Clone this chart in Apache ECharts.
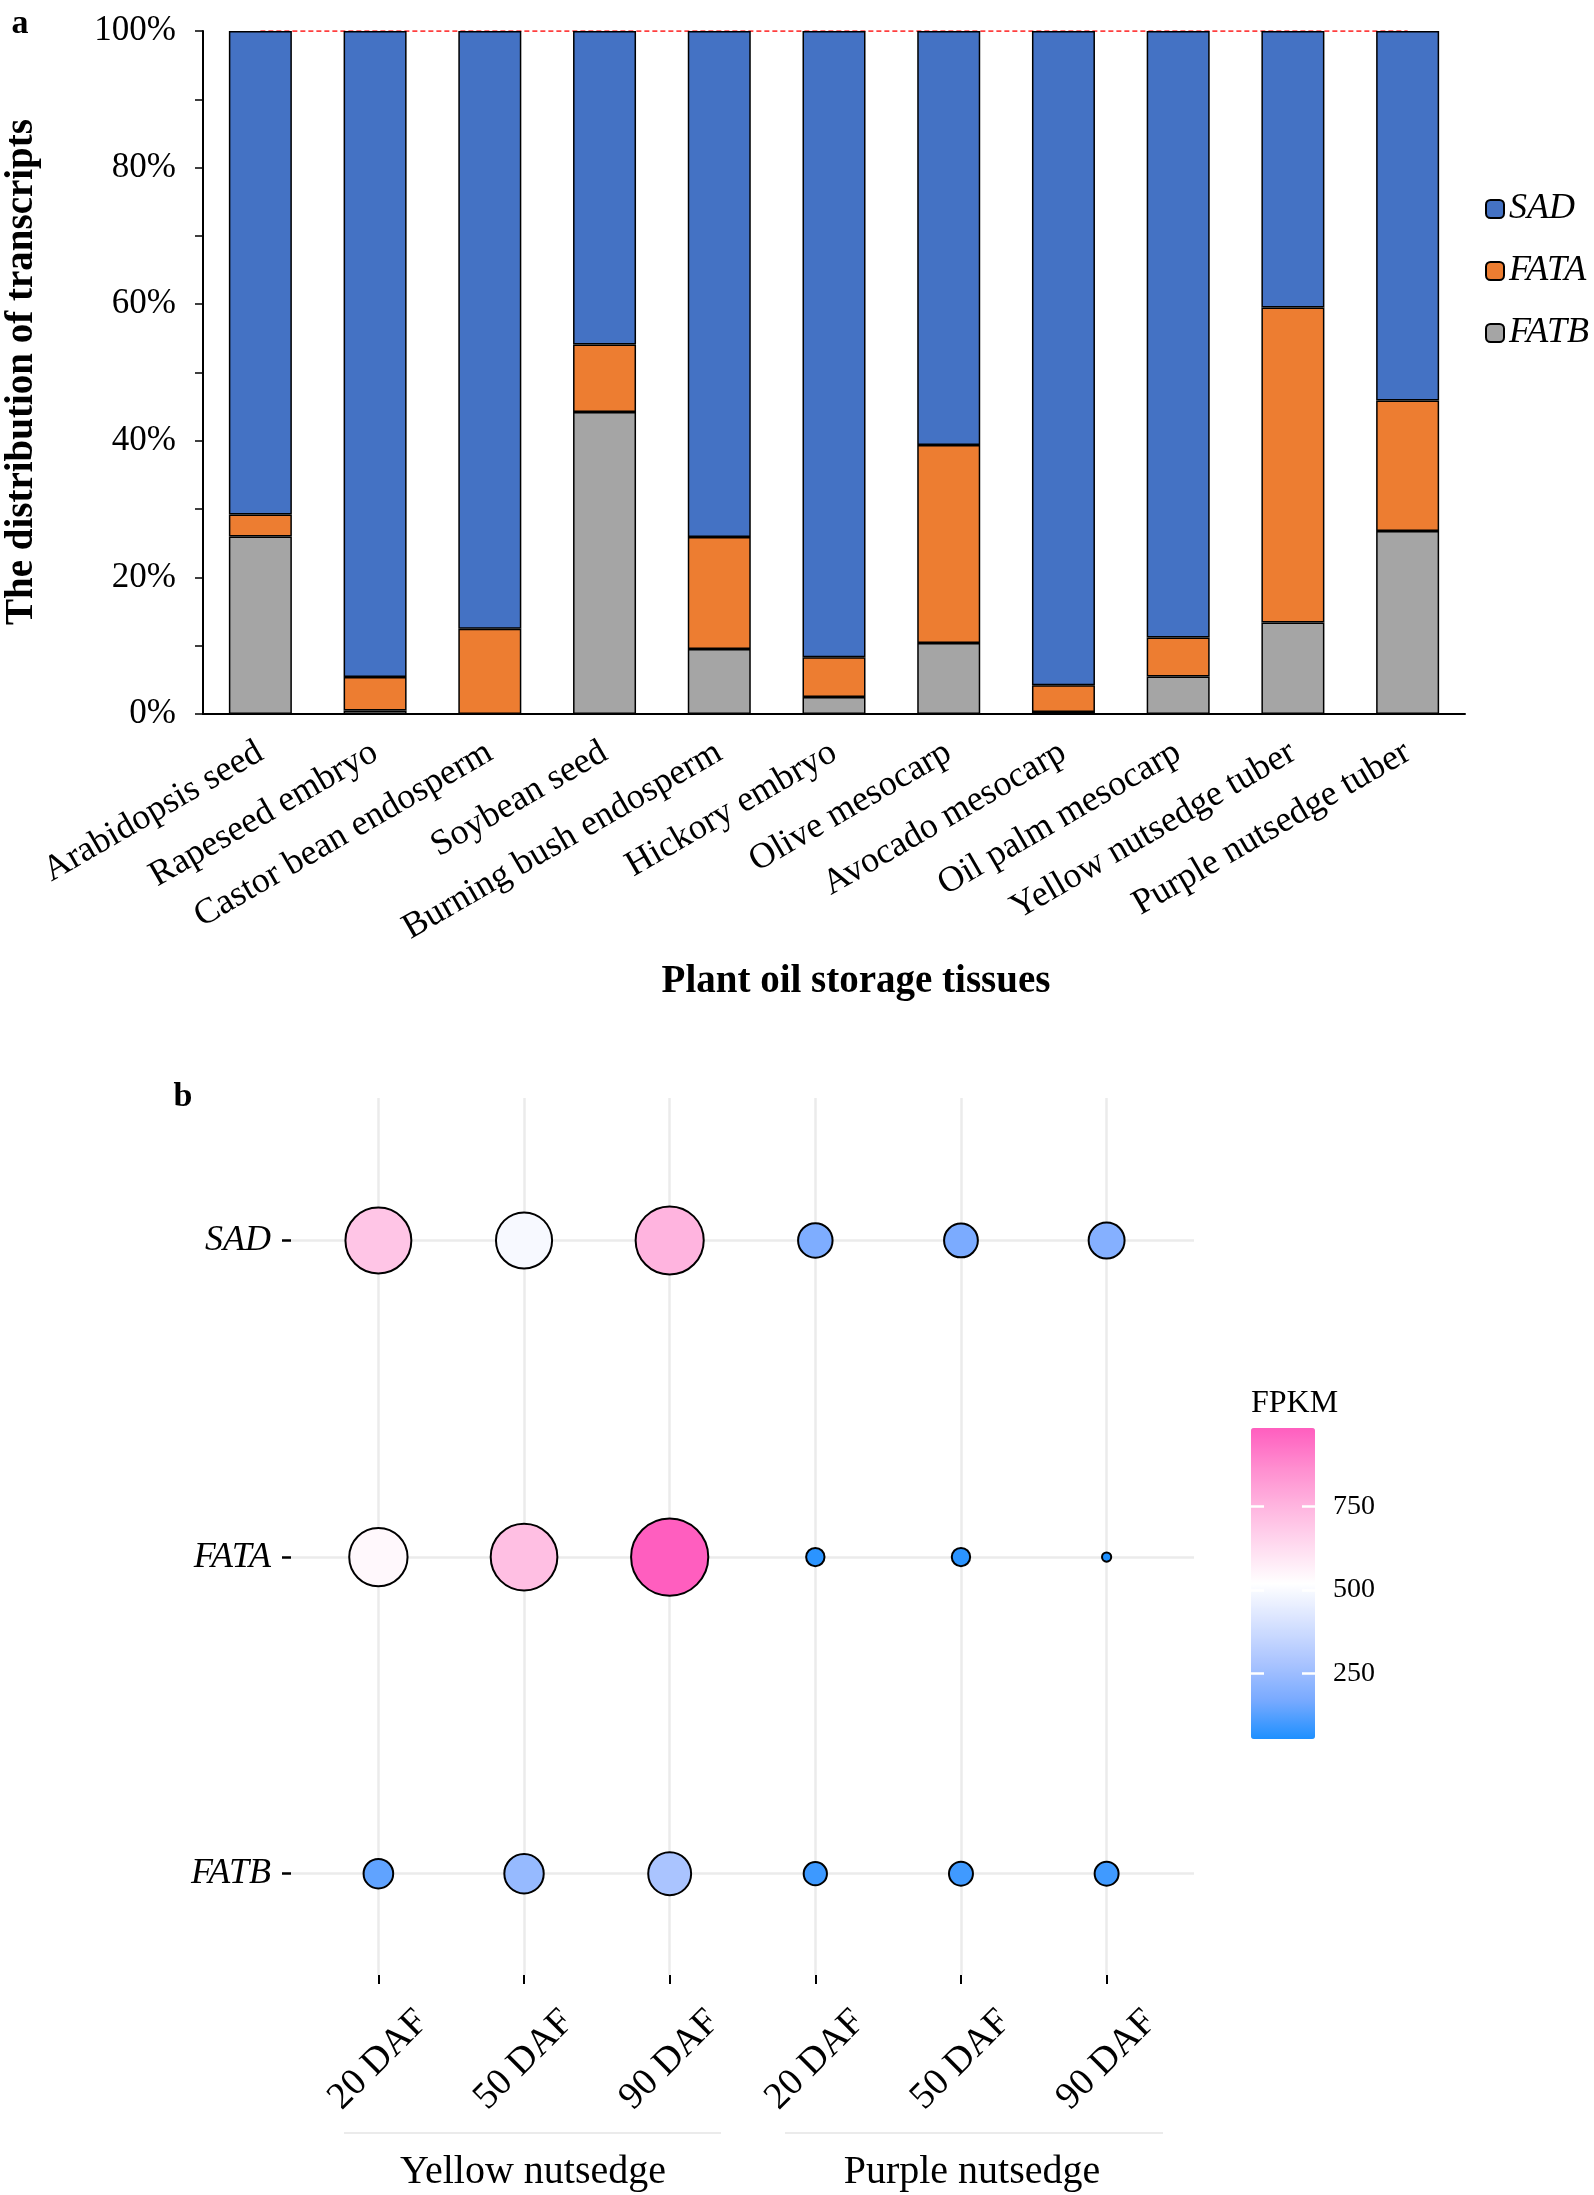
<!DOCTYPE html>
<html><head><meta charset="utf-8">
<script src="https://cdn.jsdelivr.net/npm/echarts@6/dist/echarts.min.js"></script>
<style>html,body{margin:0;padding:0;background:#fff}#c{width:1594px;height:2195px}</style>
</head><body><div id="c"></div>
<script>
// ---- Panel a data ----
const tissues = ['Arabidopsis seed','Rapeseed embryo','Castor bean endosperm','Soybean seed','Burning bush endosperm','Hickory embryo','Olive mesocarp','Avocado mesocarp','Oil palm mesocarp','Yellow nutsedge tuber','Purple nutsedge tuber'];
const fatbShare = [26.0, 0.5, 0, 44.2, 9.5, 2.5, 10.4, 0.3, 5.5, 13.4, 26.8];
const fataShare = [3.2, 4.9, 12.5, 9.9, 16.4, 5.8, 29.0, 3.9, 5.7, 46.1, 19.1];
const sadShare  = [70.8, 94.6, 87.5, 45.9, 74.1, 91.7, 60.6, 95.8, 88.8, 40.5, 54.1];
const yTicksA = [0, 20, 40, 60, 80, 100];

// ---- Panel b data ----
const stages = ['20 DAF','50 DAF','90 DAF','20 DAF','50 DAF','90 DAF'];
const species = ['Yellow nutsedge','Purple nutsedge'];
const genes = ['SAD','FATA','FATB'];
const fpkmSAD  = [702, 497, 753, 182, 175, 197];
const fpkmFATA = [540, 720, 986, 70, 70, 53];
const fpkmFATB = [137, 237, 282, 93, 97, 97];
const colorbarTicks = [250, 500, 750];

const SERIF = '"Liberation Serif","Times New Roman",serif';
const fpkmByGene = [fpkmSAD, fpkmFATA, fpkmFATB];
const allF = fpkmByGene.flat();
const fMin = Math.min(...allF), fMax = Math.max(...allF);
const bubbleData = [];
genes.forEach((g, gi) => {
  fpkmByGene[gi].forEach((v, si) => bubbleData.push([si + 1, genes.length - gi, v]));
});
const sizeOf = v => 9.2 + 68 * Math.sqrt((v - fMin) / (fMax - fMin));
const stageIdx = stages.map((_, i) => i + 1);
const geneIdx = genes.map((_, i) => i + 1);
const topLine = tissues.map((_, i) => fatbShare[i] + fataShare[i] + sadShare[i]);

const chart = echarts.init(document.getElementById('c'), null, {renderer: 'canvas'});
const barCommon = {type: 'bar', stack: 'total', barWidth: 63, xAxisIndex: 0, yAxisIndex: 0, z: 2};
const centered = {align: 'center', verticalAlign: 'middle', textAlign: 'center', textVerticalAlign: 'middle', fill: '#000'};
const cbTick = {show: true, customValues: colorbarTicks, length: 13, lineStyle: {color: '#fff', width: 2.5}};
chart.setOption({
  animation: false,
  backgroundColor: '#fff',
  textStyle: {fontFamily: SERIF, color: '#000'},
  grid: [
    {left: 203, right: 129, top: 31, bottom: 1481},
    {left: 291, right: 400, top: 1098, bottom: 220},
    {left: 1251, top: 1428, width: 64, height: 311},
    {left: 1315, top: 1428, width: 10, height: 311}
  ],
  legend: {
    data: ['SAD', 'FATA', 'FATB'],
    orient: 'vertical', left: 1480, top: 186, itemWidth: 18, itemHeight: 18, itemGap: 26,
    textStyle: {fontFamily: SERIF, fontStyle: 'italic', fontSize: 36, color: '#000'}
  },
  xAxis: [
    {gridIndex: 0, type: 'category', data: tissues,
     axisLine: {lineStyle: {color: '#000', width: 2}},
     axisTick: {alignWithLabel: true, length: 8, lineStyle: {color: '#000', width: 1.5}},
     axisLabel: {rotate: 30, interval: 0, margin: 36, fontSize: 36, color: '#000', fontFamily: SERIF}},
    {gridIndex: 1, type: 'value', min: 0.4, max: stages.length + 0.6,
     axisLine: {show: false},
     axisTick: {show: true, customValues: stageIdx, length: 9, lineStyle: {color: '#000', width: 2}},
     axisLabel: {customValues: stageIdx, formatter: v => stages[Math.round(v) - 1] || '', rotate: 45, align: 'center', verticalAlign: 'middle', margin: 85, fontSize: 38, color: '#000', fontFamily: SERIF},
     splitLine: {show: true, lineStyle: {color: '#EBEBEB', width: 2.5}}},
    {gridIndex: 2, type: 'value', min: 0, max: 1, show: false},
    {gridIndex: 3, type: 'value', min: 0, max: 1, show: false}
  ],
  yAxis: [
    {gridIndex: 0, type: 'value', min: 0, max: 100, interval: 10,
     axisLine: {show: true, lineStyle: {color: '#000', width: 2}},
     axisTick: {show: true, length: 8, lineStyle: {color: '#000', width: 1.5}},
     axisLabel: {formatter: v => yTicksA.includes(v) ? v + '%' : '', margin: 27, fontSize: 35, color: '#000', fontFamily: SERIF},
     splitLine: {show: false}},
    {gridIndex: 1, type: 'value', min: 0.68, max: genes.length + 0.45,
     axisLine: {show: false},
     axisTick: {show: true, customValues: geneIdx, length: 9, lineStyle: {color: '#000', width: 2.5}},
     axisLabel: {customValues: geneIdx, formatter: v => genes[genes.length - Math.round(v)] || '', margin: 20, fontSize: 36, fontStyle: 'italic', color: '#000', fontFamily: SERIF},
     splitLine: {show: true, lineStyle: {color: '#EBEBEB', width: 2.5}}},
    {gridIndex: 2, type: 'value', min: fMin, max: fMax, position: 'right', z: 10,
     axisLine: {show: false}, axisTick: {show: false},
     axisLabel: {customValues: colorbarTicks, margin: 18, fontSize: 28, color: '#000', fontFamily: SERIF},
     splitLine: {show: false}},
    {gridIndex: 2, type: 'value', min: fMin, max: fMax, position: 'left', z: 10,
     axisLine: {show: false},
     axisTick: Object.assign({inside: true}, cbTick),
     axisLabel: {show: false}, splitLine: {show: false}},
    {gridIndex: 3, type: 'value', min: fMin, max: fMax, position: 'left', z: 10,
     axisLine: {show: false},
     axisTick: Object.assign({inside: false}, cbTick),
     axisLabel: {show: false}, splitLine: {show: false}}
  ],
  visualMap: {
    type: 'continuous', seriesIndex: 4, dimension: 2, min: fMin, max: fMax, z: 1,
    calculable: false, hoverLink: false, orient: 'vertical', left: 1251, top: 1428,
    itemWidth: 64, itemHeight: 311, padding: 0, text: null, showLabel: false,
    inRange: {color: ['#1E90FF','#79AAFF','#ACC5FF','#D7E2FF','#FFFFFF','#FFDAEF','#FFB4DF','#FF8CCF','#FF5EBF']}
  },
  series: [
    Object.assign({name: 'FATB', data: fatbShare, itemStyle: {color: '#A5A5A5', borderColor: '#000', borderWidth: 1.5}}, barCommon),
    Object.assign({name: 'FATA', data: fataShare, itemStyle: {color: '#ED7D31', borderColor: '#000', borderWidth: 1.5}}, barCommon),
    Object.assign({name: 'SAD', data: sadShare, itemStyle: {color: '#4472C4', borderColor: '#000', borderWidth: 1.5}}, barCommon),
    {name: 'series line', type: 'line', data: topLine, xAxisIndex: 0, yAxisIndex: 0, z: 1, symbol: 'none',
     lineStyle: {color: '#FF0000', width: 1.5, type: [5, 3]}},
    {name: 'FPKM', type: 'scatter', xAxisIndex: 1, yAxisIndex: 1, data: bubbleData,
     symbolSize: d => sizeOf(d[2]),
     itemStyle: {borderColor: '#000', borderWidth: 2, opacity: 1}}
  ],
  graphic: [
    {type: 'text', x: 20, y: 24, style: Object.assign({text: 'a', font: 'bold 34px ' + SERIF}, centered)},
    {type: 'text', x: 183, y: 1097, style: Object.assign({text: 'b', font: 'bold 34px ' + SERIF}, centered)},
    {type: 'text', x: 22, y: 372, rotation: Math.PI / 2, style: Object.assign({text: 'The distribution of transcripts', font: 'bold 39px ' + SERIF}, centered)},
    {type: 'text', x: 856, y: 982, style: Object.assign({text: 'Plant oil storage tissues', font: 'bold 39px ' + SERIF}, centered)},
    {type: 'text', x: 1251, y: 1404, style: {text: 'FPKM', font: '32px ' + SERIF, fill: '#000', align: 'left', verticalAlign: 'middle', textAlign: 'left', textVerticalAlign: 'middle'}},
    {type: 'line', shape: {x1: 344, y1: 2133, x2: 721, y2: 2133}, style: {stroke: '#EBEBEB', lineWidth: 2}},
    {type: 'line', shape: {x1: 785, y1: 2133, x2: 1163, y2: 2133}, style: {stroke: '#EBEBEB', lineWidth: 2}},
    {type: 'text', x: 533, y: 2172, style: Object.assign({text: species[0], font: '40px ' + SERIF}, centered)},
    {type: 'text', x: 972, y: 2172, style: Object.assign({text: species[1], font: '40px ' + SERIF}, centered)}
  ]
});
</script></body></html>
